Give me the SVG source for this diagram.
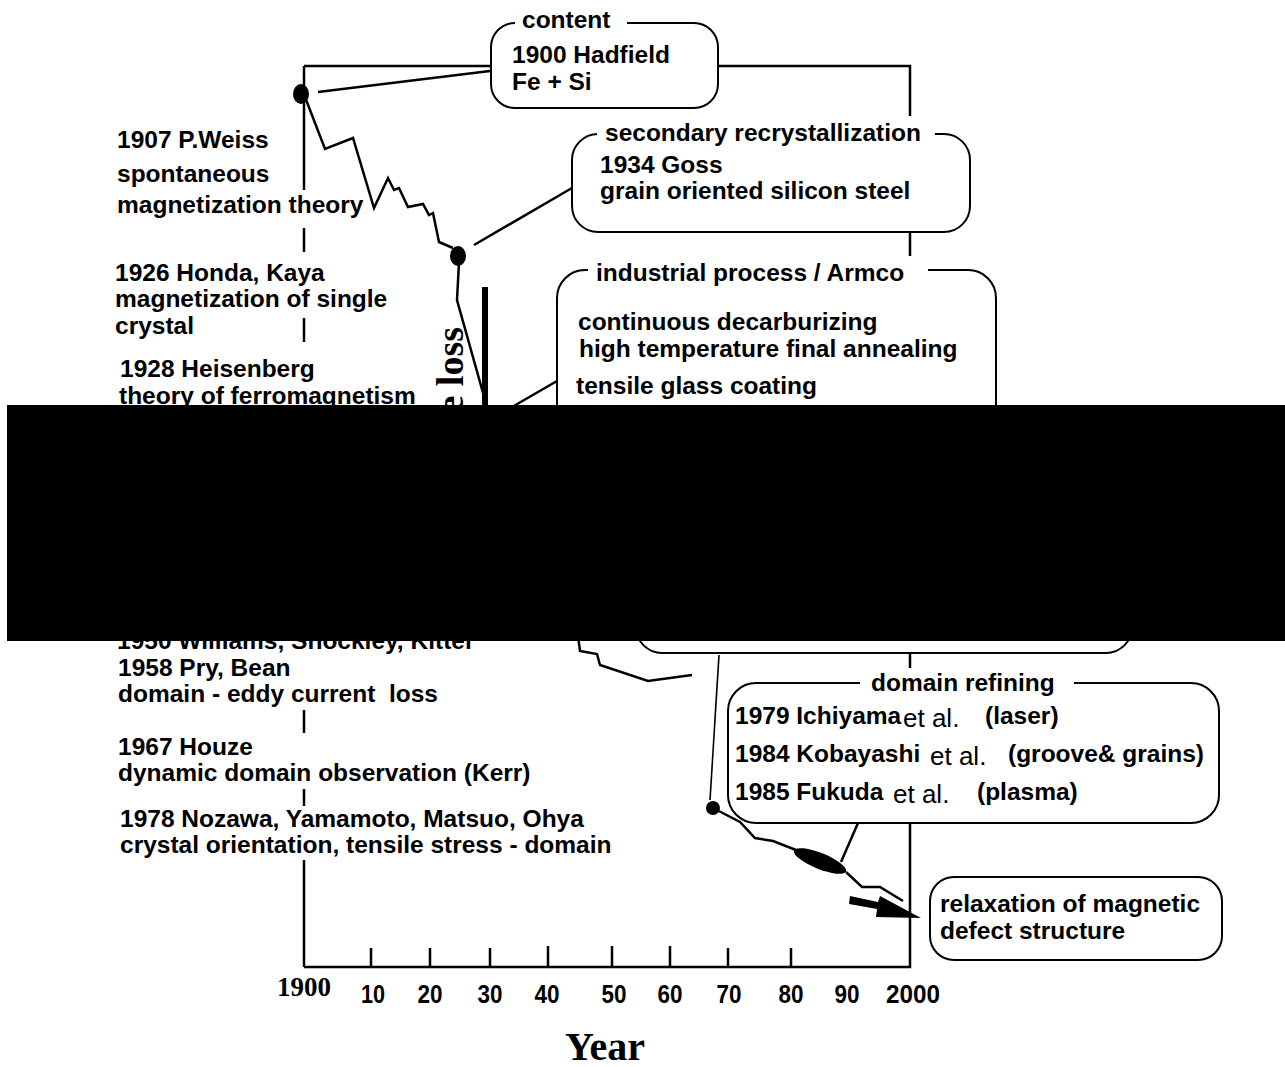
<svg xmlns="http://www.w3.org/2000/svg" width="1285" height="1067" viewBox="0 0 1285 1067">
<style>
.b{font-family:"Liberation Sans",Arial,sans-serif;font-weight:bold;font-size:24.5px;fill:#000}
.r{font-family:"Liberation Sans",Arial,sans-serif;font-weight:normal;font-size:26px;fill:#000}
.t{font-family:"Liberation Sans",Arial,sans-serif;font-weight:bold;font-size:26px;fill:#000}
.tm{font-family:"Liberation Serif","Times New Roman",serif;font-weight:bold;fill:#000}
.box{fill:#fff;stroke:#000;stroke-width:2}
.ln{fill:none;stroke:#000;stroke-width:2.5;stroke-linejoin:miter}
.lb{fill:#fff;stroke:none}
</style>
<rect width="1285" height="1067" fill="#fff"/>

<g id="frame">
<path class="ln" d="M304,66 H910 V967 H304"/>
<path class="ln" d="M304,66 V190 M304,228 V252 M304,318 V342 M304,710 V733 M304,789 V806 M304,860 V967"/>
<path class="ln" d="M371,948 V967 M430,948 V967 M490,948 V967 M548,946 V967 M612,946 V967 M670,946 V967 M728,948 V967 M791,948 V967"/>
</g>

<g id="axis-labels">
<text class="tm" x="304" y="996" font-size="27" text-anchor="middle">1900</text>
<text class="t" x="373" y="1003" text-anchor="middle" textLength="24" lengthAdjust="spacingAndGlyphs">10</text>
<text class="t" x="430" y="1003" text-anchor="middle" textLength="25" lengthAdjust="spacingAndGlyphs">20</text>
<text class="t" x="490" y="1003" text-anchor="middle" textLength="25" lengthAdjust="spacingAndGlyphs">30</text>
<text class="t" x="547" y="1003" text-anchor="middle" textLength="25" lengthAdjust="spacingAndGlyphs">40</text>
<text class="t" x="614" y="1003" text-anchor="middle" textLength="25" lengthAdjust="spacingAndGlyphs">50</text>
<text class="t" x="670" y="1003" text-anchor="middle" textLength="25" lengthAdjust="spacingAndGlyphs">60</text>
<text class="t" x="729" y="1003" text-anchor="middle" textLength="25" lengthAdjust="spacingAndGlyphs">70</text>
<text class="t" x="791" y="1003" text-anchor="middle" textLength="25" lengthAdjust="spacingAndGlyphs">80</text>
<text class="t" x="847" y="1003" text-anchor="middle" textLength="25" lengthAdjust="spacingAndGlyphs">90</text>
<text class="t" x="913" y="1003" text-anchor="middle" textLength="54" lengthAdjust="spacingAndGlyphs">2000</text>
<text class="tm" x="605" y="1060" font-size="40" text-anchor="middle">Year</text>
<text class="tm" x="463" y="327" font-size="38" text-anchor="end" transform="rotate(-90 463 327)">e loss</text>
</g>

<g id="history-text">
<text class="b" x="117" y="148">1907 P.Weiss</text>
<text class="b" x="117" y="182">spontaneous</text>
<text class="b" x="117" y="213">magnetization theory</text>
<text class="b" x="115" y="281">1926 Honda, Kaya</text>
<text class="b" x="115" y="307">magnetization of single</text>
<text class="b" x="115" y="334">crystal</text>
<text class="b" x="120" y="377">1928 Heisenberg</text>
<text class="b" x="119" y="404">theory of ferromagnetism</text>
<text class="b" x="117" y="649">1950 Williams, Shockley, Kittel</text>
<text class="b" x="118" y="676">1958 Pry, Bean</text>
<text class="b" x="118" y="702" xml:space="preserve">domain - eddy current  loss</text>
<text class="b" x="118" y="755">1967 Houze</text>
<text class="b" x="118" y="781">dynamic domain observation (Kerr)</text>
<text class="b" x="120" y="827">1978 Nozawa, Yamamoto, Matsuo, Ohya</text>
<text class="b" x="120" y="853">crystal orientation, tensile stress - domain</text>
</g>

<g id="connectors">
<path class="ln" d="M305,97 L325,149 L353,138 L374,208 L388,178 L394,190 L399,188 L408,207 L423,204 L429,215 L433,213 L439,242 L453,248"/>
<path class="ln" d="M459,262 L457,300 L492,425"/>
<rect x="482" y="287" width="6" height="140" fill="#000"/>
<path class="ln" d="M318,92 L490,71"/>
<path class="ln" d="M474,245 L572,188"/>
<path class="ln" d="M557,381 L500,414"/>
<path class="ln" d="M578,636 L580,651 L597,654 L600,665 L648,681 L692,675"/>
<path fill="none" stroke="#000" stroke-width="1.6" d="M719,655 L710,800"/>
<path class="ln" d="M713,808 L740,822 L755,838 L773,841 L796,850 M846,872 L862,887 L880,887 L903,901"/>
<ellipse cx="820" cy="861" rx="28" ry="8" transform="rotate(22 820 861)" fill="#000"/>
<path class="ln" d="M858,823 L841,862"/>
<polygon points="850,896 878,902 880,896 921,918 876,917 877,909 849,904" fill="#000"/>
<ellipse cx="301" cy="94" rx="8" ry="10" fill="#000"/>
<ellipse cx="458" cy="256" rx="8" ry="10" fill="#000"/>
<circle cx="713" cy="808" r="7" fill="#000"/>
</g>

<g id="node-content">
<rect class="box" x="491" y="23" width="227" height="85" rx="24"/>
<rect class="lb" x="515" y="8" width="112" height="24"/>
<text class="b" x="522" y="28">content</text>
<text class="b" x="512" y="63">1900 Hadfield</text>
<text class="b" x="512" y="90">Fe + Si</text>
</g>

<g id="node-secondary">
<rect class="box" x="572" y="134" width="398" height="98" rx="26"/>
<rect class="lb" x="597" y="116" width="338" height="30"/>
<text class="b" x="605" y="141">secondary recrystallization</text>
<text class="b" x="600" y="173">1934 Goss</text>
<text class="b" x="600" y="199">grain oriented silicon steel</text>
</g>

<g id="node-industrial">
<rect class="box" x="557" y="270" width="439" height="345" rx="28"/>
<rect class="lb" x="588" y="256" width="340" height="28"/>
<text class="b" x="596" y="281">industrial process / Armco</text>
<text class="b" x="578" y="330">continuous decarburizing</text>
<text class="b" x="579" y="357">high temperature final annealing</text>
<text class="b" x="576" y="394">tensile glass coating</text>
</g>

<g id="node-hidden">
<rect class="box" x="636" y="500" width="496" height="153" rx="26"/>
</g>

<g id="node-domain">
<rect class="box" x="728" y="683" width="491" height="140" rx="28"/>
<rect class="lb" x="860" y="668" width="214" height="28"/>
<text class="b" x="871" y="691">domain refining</text>
<text class="b" x="735" y="724">1979 Ichiyama</text>
<text class="r" x="903" y="727">et al.</text>
<text class="b" x="985" y="724">(laser)</text>
<text class="b" x="735" y="762">1984 Kobayashi</text>
<text class="r" x="930" y="765">et al.</text>
<text class="b" x="1008" y="762">(groove&amp; grains)</text>
<text class="b" x="735" y="800">1985 Fukuda</text>
<text class="r" x="893" y="803">et al.</text>
<text class="b" x="977" y="800">(plasma)</text>
</g>

<g id="node-relaxation">
<rect class="box" x="930" y="877" width="292" height="83" rx="24"/>
<text class="b" x="940" y="912">relaxation of magnetic</text>
<text class="b" x="940" y="939">defect structure</text>
</g>

<rect id="redaction" x="7" y="405" width="1278" height="236" fill="#000"/>
</svg>
